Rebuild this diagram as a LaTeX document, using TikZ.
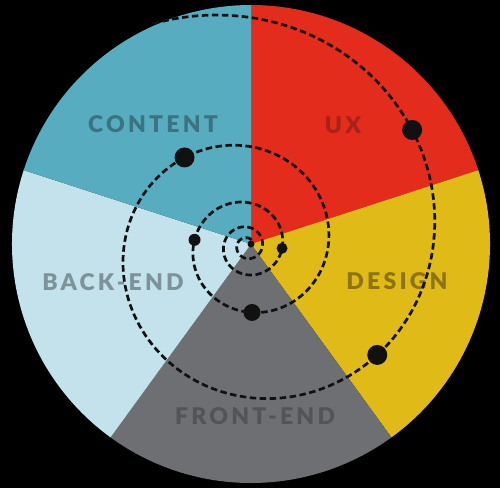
\documentclass[tikz,border=0pt]{standalone}
\usepackage{fontspec}
\newfontfamily\lblfont{Lato}[LetterSpace=14, BoldFont={Lato Black}]
\definecolor{uxc}{HTML}{E32C1B}
\definecolor{dsc}{HTML}{E0BA16}
\definecolor{fec}{HTML}{6E6F72}
\definecolor{bec}{HTML}{C3E2EC}
\definecolor{ctc}{HTML}{57ACC0}
\definecolor{uxl}{HTML}{A8221A}
\definecolor{dsl}{HTML}{8C7412}
\definecolor{fel}{HTML}{535458}
\definecolor{bel}{HTML}{7E9399}
\definecolor{ctl}{HTML}{3A7381}
\definecolor{dotc}{HTML}{111111}
\tikzset{
  lbl/.style={font=\lblfont\bfseries\fontsize{23}{23}\selectfont, inner sep=0pt, anchor=center},
  dotn/.style={circle, fill=dotc, inner sep=0pt, draw=none},
  spiral/.style={draw=dotc, line width=2.7pt, dash pattern=on 6.5pt off 3.5pt},
  declare function={
    sr(\t)=229*exp(-0.0023084*\t);
    sx(\t)=247+sr(\t)*sin(\t);
    sy(\t)=246-sr(\t)*cos(\t);
  }
}
\begin{document}
\begin{tikzpicture}[x=1pt,y=-1pt]
\fill[black] (0,0) rectangle (500,488);
\useasboundingbox (0,0) rectangle (500,488);
\coordinate (c) at (251,244);
\fill[uxc] (c) -- ++(90:239pt) arc[start angle=90, end angle=18, radius=239pt] -- cycle;
\fill[dsc] (c) -- ++(18:239pt) arc[start angle=18, end angle=-54, radius=239pt] -- cycle;
\fill[fec] (c) -- ++(-54:239pt) arc[start angle=-54, end angle=-126, radius=239pt] -- cycle;
\fill[bec] (c) -- ++(-126:239pt) arc[start angle=-126, end angle=-198, radius=239pt] -- cycle;
\fill[ctc] (c) -- ++(162:239pt) arc[start angle=162, end angle=90, radius=239pt] -- cycle;
\node[lbl, text=ctl] (tcontent) at (153,124) {CONTENT};
\node[lbl, text=uxl] (tux) at (343,125) {UX};
\node[lbl, text=bel] (tback) at (113,282) {BACK-END};
\node[lbl, text=dsl] (tdesign) at (397,281) {DESIGN};
\node[lbl, text=fel] (tfront) at (255,416.5) {FRONT-END};
\draw[spiral] plot[domain=-23:1500, samples=600, variable=\t] ({sx(\t)},{sy(\t)});
\node[dotn, minimum size=20pt] (d1) at ({sx(54.9)},{sy(54.9)}) {};
\node[dotn, minimum size=20pt] (d2) at ({sx(129.9)},{sy(129.9)}) {};
\node[dotn, minimum size=20pt] (d3) at ({sx(324.8)},{sy(324.8)}) {};
\node[dotn, minimum size=17pt] (d4) at ({sx(535.7)},{sy(535.7)}) {};
\node[dotn, minimum size=12pt] (d5) at ({sx(636.7)},{sy(636.7)}) {};
\node[dotn, minimum size=11pt] (d6) at ({sx(813.7)},{sy(813.7)}) {};
\node[dotn, minimum size=7pt] (d7) at (251,244) {};
\end{tikzpicture}
\end{document}
